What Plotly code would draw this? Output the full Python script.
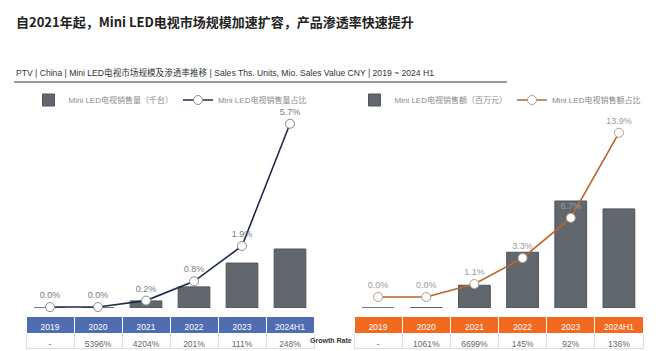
import plotly.graph_objects as go

W, H = 672, 351

years = ["2019", "2020", "2021", "2022", "2023", "2024H1"]
vol_units = [0.05, 3, 130, 390, 830, 1090]          # Ths. units
vol_share = [0.0, 0.0, 0.2, 0.8, 1.9, 5.7]          # %
vol_growth = ["-", "5396%", "4204%", "201%", "111%", "248%"]

val_cny = [2.8, 33, 2250, 5510, 10580, 9800]        # Mio. CNY
val_share = [0.0, 0.0, 1.1, 3.3, 6.7, 13.9]         # %
val_growth = ["-", "1061%", "6699%", "145%", "92%", "136%"]

title = "自2021年起，Mini LED电视市场规模加速扩容，产品渗透率快速提升"
subtitle = "PTV | China | Mini LED电视市场规模及渗透率推移 | Sales Ths. Units, Mio. Sales Value CNY | 2019 ~ 2024 H1"

FONT = "Liberation Sans, Noto Sans CJK SC, sans-serif"


def px_x(a, b):
    return [a / W, b / W]


def px_y(top, bottom):
    return [(H - bottom) / H, (H - top) / H]


fig = go.Figure()

BAR = "#62676d"
LEFT_LINE = "#1e2b4d"
RIGHT_LINE = "#b8662e"

# left chart
fig.add_trace(go.Bar(x=years, y=vol_units, marker=dict(color=BAR, line=dict(color="#50555a", width=1)),
                     width=0.66, name="Mini LED电视销售量（千台）", xaxis="x", yaxis="y", legend="legend"))
fig.add_trace(go.Scatter(x=years, y=vol_share, mode="lines+markers+text",
                         text=[f"{v:.1f}%" for v in vol_share], textposition="top center",
                         textfont=dict(size=9, color="#7a7a7a", family=FONT),
                         line=dict(color=LEFT_LINE, width=1.6),
                         marker=dict(size=9, color="white", line=dict(color="#8a8a8a", width=1)),
                         name="Mini LED电视销售量占比", xaxis="x", yaxis="y2", legend="legend", cliponaxis=False))

# right chart
fig.add_trace(go.Bar(x=years, y=val_cny, marker=dict(color=BAR, line=dict(color="#50555a", width=1)),
                     width=0.66, name="Mini LED电视销售额（百万元）", xaxis="x2", yaxis="y3", legend="legend2"))
fig.add_trace(go.Scatter(x=years, y=val_share, mode="lines+markers+text",
                         text=[f"{v:.1f}%" for v in val_share], textposition="top center",
                         textfont=dict(size=9, color="#9a9a9a", family=FONT),
                         line=dict(color=RIGHT_LINE, width=1.6),
                         marker=dict(size=9, color="white", line=dict(color="#b0a090", width=1)),
                         name="Mini LED电视销售额占比", xaxis="x2", yaxis="y4", legend="legend2", cliponaxis=False))

# tables
def table(dom_x, header_color, growth):
    return go.Table(
        domain=dict(x=dom_x, y=px_y(316, 349)),
        columnwidth=[1] * len(years),
        header=dict(values=years, fill_color=header_color, height=17,
                    line=dict(color="white", width=1), align="center",
                    font=dict(size=8.5, color="white", family=FONT)),
        cells=dict(values=[[g] for g in growth], fill_color="white", height=15,
                   line=dict(color="#dddddd", width=1), align="center",
                   font=dict(size=8.5, color="#666666", family=FONT)),
    )

fig.add_trace(table(px_x(26, 314), "#4f6db0", vol_growth))
fig.add_trace(table(px_x(354, 643), "#f2691f", val_growth))

ax_hidden = dict(showgrid=False, zeroline=False, showticklabels=False, showline=False, ticks="")

fig.update_layout(
    width=W, height=H,
    margin=dict(l=0, r=0, t=0, b=0),
    paper_bgcolor="white", plot_bgcolor="white",
    font=dict(family=FONT),
    barmode="overlay",
    xaxis=dict(domain=px_x(26, 314), range=[-0.5, 5.5], type="category", **ax_hidden),
    yaxis=dict(domain=px_y(108, 308), range=[0, 3695], **ax_hidden),
    yaxis2=dict(overlaying="y", range=[-0.03, 6.19], **ax_hidden),
    xaxis2=dict(domain=px_x(354, 643), range=[-0.5, 5.5], type="category", anchor="y3", **ax_hidden),
    yaxis3=dict(domain=px_y(108, 308), range=[0, 19776], anchor="x2", **ax_hidden),
    yaxis4=dict(overlaying="y3", anchor="x2", range=[-0.93, 16.0], **ax_hidden),
    legend=dict(orientation="h", x=170 / W, y=(H - 100) / H, xanchor="center", yanchor="middle",
                font=dict(size=8, color="#8a8a8a"), bgcolor="rgba(0,0,0,0)",
                itemwidth=30, tracegroupgap=0),
    legend2=dict(orientation="h", x=500 / W, y=(H - 100) / H, xanchor="center", yanchor="middle",
                 font=dict(size=8, color="#8a8a8a"), bgcolor="rgba(0,0,0,0)",
                 itemwidth=30, tracegroupgap=0),
    showlegend=True,
)

fig.add_annotation(text=title, x=14 / W, y=(H - 22) / H, xref="paper", yref="paper",
                   xanchor="left", yanchor="middle", showarrow=False,
                   font=dict(size=13, color="#222222", family="Noto Sans CJK SC, sans-serif", weight="bold"))
fig.add_annotation(text=subtitle, x=14 / W, y=(H - 72) / H, xref="paper", yref="paper",
                   xanchor="left", yanchor="middle", showarrow=False,
                   font=dict(size=8.6, color="#333333", family=FONT))
fig.add_annotation(text="<b>Growth Rate</b>", x=331 / W, y=(H - 340) / H, xref="paper", yref="paper",
                   xanchor="center", yanchor="middle", showarrow=False,
                   font=dict(size=7, color="#333333", family=FONT))
fig.add_shape(type="line", xref="paper", yref="paper", x0=14 / W, x1=507 / W,
              y0=(H - 82) / H, y1=(H - 82) / H, line=dict(color="#9a9a9a", width=2))

fig.write_html("out.html")
